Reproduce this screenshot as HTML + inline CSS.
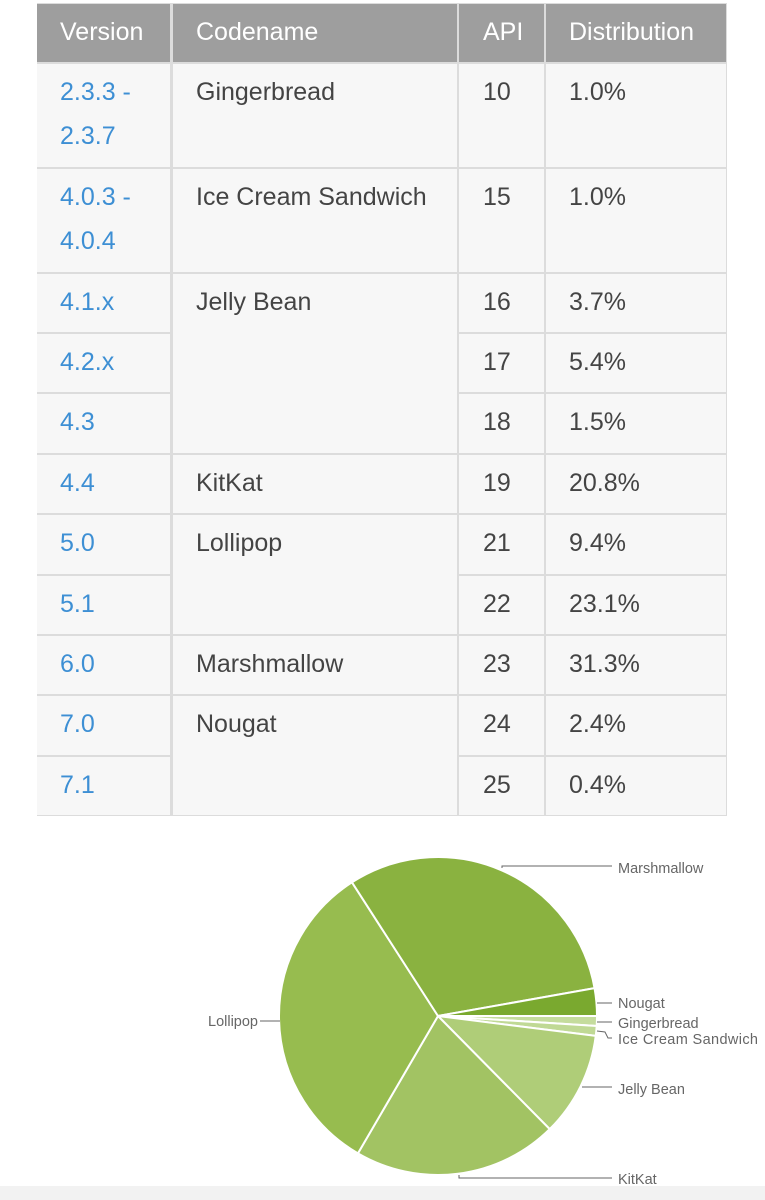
<!DOCTYPE html>
<html><head><meta charset="utf-8">
<style>
body{margin:0;width:765px;height:1200px;background:#fff;position:relative;overflow:hidden;font-family:"Liberation Sans",Arial,sans-serif}
.c{position:absolute;background:#f7f7f7;box-sizing:border-box;font-size:25px;color:#444;line-height:44px;padding:6px 0 0 0}
.h{background:#9e9e9e;color:#fff;padding:6px 0 0 0}
.v{color:#3d8fd4}
#bg{position:absolute;left:37px;top:3px;width:690px;height:813px;background:#dcdcdc}
svg{position:absolute;left:0;top:0}
</style></head><body>
<div id="bg"></div>
<div id="tbl"></div>
<svg id="pie" width="765" height="1200"></svg>
<div style="position:absolute;left:0;top:1186px;width:765px;height:14px;background:#f2f2f2"></div>
<script>
var R=[3,63,168,273,333,393,454,514,575,635,695,756,816];
var C=[37,172,458,545,727];
var pads=[23,24,25,24];
var h='';
function cell(c0,c1,r0,r1,txt,cls){
 var x=C[c0]+1,y=R[r0]+1,w=C[c1]-C[c0]-2,hh=R[r1]-R[r0]-2;
 if(c0==0)x=C[0];
 h+='<div class="c '+cls+'" style="left:'+x+'px;top:'+y+'px;width:'+w+'px;height:'+hh+'px;padding-left:'+(C[c0]+pads[c0]-x)+'px">'+txt+'</div>';
}
var hd=['Version','Codename','API','Distribution'];
for(var i=0;i<4;i++)cell(i,i+1,0,1,hd[i],'h');
var rows=[['2.3.3 -<br>2.3.7','10','1.0%'],['4.0.3 -<br>4.0.4','15','1.0%'],['4.1.x','16','3.7%'],['4.2.x','17','5.4%'],['4.3','18','1.5%'],['4.4','19','20.8%'],['5.0','21','9.4%'],['5.1','22','23.1%'],['6.0','23','31.3%'],['7.0','24','2.4%'],['7.1','25','0.4%']];
for(var r=0;r<rows.length;r++){
 cell(0,1,r+1,r+2,rows[r][0],'v');
 cell(2,3,r+1,r+2,rows[r][1],'');
 cell(3,4,r+1,r+2,rows[r][2],'');
}
var cn=[[1,2,'Gingerbread'],[2,3,'Ice Cream Sandwich'],[3,6,'Jelly Bean'],[6,7,'KitKat'],[7,9,'Lollipop'],[9,10,'Marshmallow'],[10,12,'Nougat']];
cn.forEach(function(a){cell(1,2,a[0],a[1],a[2],'')});
document.getElementById('tbl').innerHTML=h;

var cx=438,cy=1016,rad=159;
var sl=[[1.0,'#c5dc9d'],[1.0,'#c0d995'],[10.6,'#afcd78'],[20.8,'#a2c363'],[32.5,'#97bc4f'],[31.3,'#8ab240'],[2.8,'#7aa92f']];
var s='',a=0;
sl.forEach(function(p){
 var a0=a/100*2*Math.PI,a1=(a+p[0])/100*2*Math.PI;a+=p[0];
 var x0=cx+rad*Math.cos(a0),y0=cy+rad*Math.sin(a0),x1=cx+rad*Math.cos(a1),y1=cy+rad*Math.sin(a1);
 s+='<path d="M'+cx+','+cy+' L'+x0+','+y0+' A'+rad+','+rad+' 0 '+(a1-a0>Math.PI?1:0)+' 1 '+x1+','+y1+' Z" fill="'+p[1]+'" stroke="#fff" stroke-width="2"/>';
});
var L='stroke="#666" stroke-width="1" fill="none"';
s+='<polyline points="502,868 502,866 612,866" '+L+'/>';
s+='<polyline points="597,1003 612,1003" '+L+'/>';
s+='<polyline points="597,1022 612,1022" '+L+'/>';
s+='<polyline points="597,1031 605,1032 608,1038 612,1038" '+L+'/>';
s+='<polyline points="582,1087 612,1087" '+L+'/>';
s+='<polyline points="459,1175 459,1178 612,1178" '+L+'/>';
s+='<polyline points="260,1021 280,1021" '+L+'/>';
var T='font-family="Liberation Sans,Arial,sans-serif" font-size="14.5" fill="#666"';
s+='<text x="618" y="873" '+T+'>Marshmallow</text>';
s+='<text x="618" y="1008" '+T+'>Nougat</text>';
s+='<text x="618" y="1028" '+T+'>Gingerbread</text>';
s+='<text x="618" y="1044" '+T+' textLength="140">Ice Cream Sandwich</text>';
s+='<text x="618" y="1094" '+T+'>Jelly Bean</text>';
s+='<text x="618" y="1184" '+T+'>KitKat</text>';
s+='<text x="258" y="1026" text-anchor="end" '+T+'>Lollipop</text>';
document.getElementById('pie').innerHTML=s;
</script>
</body></html>
